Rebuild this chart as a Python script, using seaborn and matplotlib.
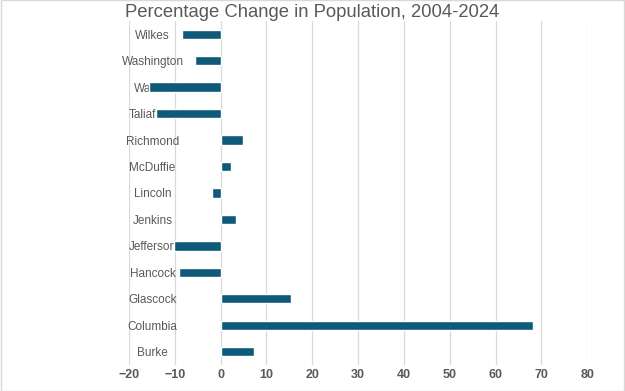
import pandas as pd
import matplotlib.pyplot as plt
import seaborn as sns

counties = ['Wilkes', 'Washington', 'Warren', 'Taliaferro', 'Richmond', 'McDuffie',
            'Lincoln', 'Jenkins', 'Jefferson', 'Hancock', 'Glascock', 'Columbia', 'Burke']
pct_change = [-8.5, -5.5, -15.6, -14.2, 4.8, 2.2, -1.8, 3.4, -10.1, -9.0, 15.3, 68.1, 7.2]

df = pd.DataFrame({'county': counties, 'pct': pct_change})

sns.set_style('white')
plt.rcParams['font.family'] = ['Liberation Sans', 'DejaVu Sans']

fig = plt.figure(figsize=(6.25, 3.91), dpi=100)
ax = fig.add_axes([0.2064, 0.0665, 0.733, 0.880])

sns.barplot(data=df, x='pct', y='county', orient='h', color='#0f5a78',
            saturation=1, width=0.35, ax=ax)

ax.set_xlim(-20, 80)
ax.set_xticks(range(-20, 81, 10))
ax.grid(axis='x', color='#d9d9d9', linewidth=0.9)
ax.set_axisbelow(True)
for s in ax.spines.values():
    s.set_visible(False)

ax.set_xlabel('')
ax.set_ylabel('')
ax.tick_params(axis='x', length=0, pad=3, labelsize=9, labelcolor='#595959')
ax.tick_params(axis='y', length=0, pad=-17, labelsize=8.5, labelcolor='#595959')
for lbl in ax.get_xticklabels():
    lbl.set_fontweight('bold')
for lbl in ax.get_yticklabels():
    lbl.set_horizontalalignment('center')

fig.text(0.5, 0.968, 'Percentage Change in Population, 2004-2024', ha='center',
         va='center', fontsize=13.3, color='#595959')

fig.patches.append(plt.Rectangle((0.001, 0.001), 0.998, 0.998, transform=fig.transFigure,
                                 fill=False, edgecolor='#d9d9d9', linewidth=1))

plt.savefig('out.png', dpi=100)
